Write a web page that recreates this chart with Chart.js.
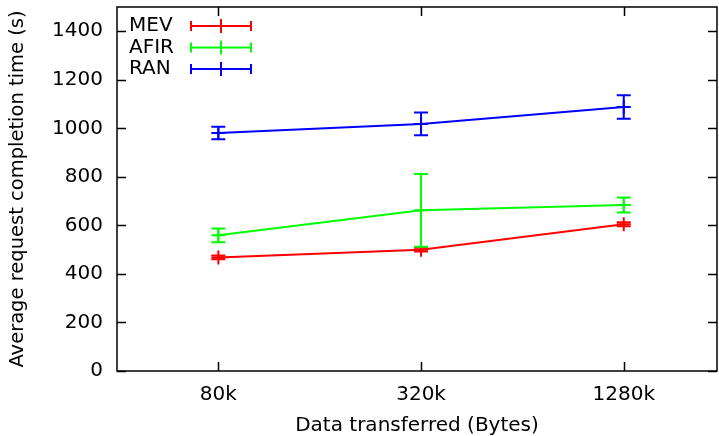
<!DOCTYPE html>
<html>
<head>
<meta charset="utf-8">
<script src="https://cdn.jsdelivr.net/npm/chart.js@4/dist/chart.umd.min.js"></script>
<style>
  html,body{margin:0;padding:0;background:#fff}
  #wrap{width:719px;height:436px;position:relative}
</style>
</head>
<body>
<div id="wrap"><canvas id="c"></canvas></div>
<script>
// request completion time vs transfer size, with error bars
const sizes = ['80k', '320k', '1280k'];
const seriesNames = ['MEV', 'AFIR', 'RAN'];
const seriesColors = ['#ff0000', '#00ff00', '#0000ff'];
const mevTime = [468, 500, 605];
const mevErr = [8, 8, 8];
const afirTime = [559, 662, 684];
const afirErr = [28, 150, 31];
const ranTime = [981, 1018, 1088];
const ranErr = [26, 47, 48];
const yTicks = [0, 200, 400, 600, 800, 1000, 1200, 1400];

const FONT = '"DejaVu Sans", sans-serif';
const errs = [mevErr, afirErr, ranErr];

function mkSet(i, vals){
  return {
    label: seriesNames[i],
    data: vals.map((v, k) => ({ x: k, y: v })),
    borderColor: seriesColors[i], backgroundColor: seriesColors[i],
    borderWidth: 2, pointStyle: 'cross', pointRadius: 7, pointBorderWidth: 2,
    tension: 0
  };
}

// vertical error bars with caps
const errorBars = {
  id: 'errorBars',
  afterDatasetsDraw(chart){
    const ctx = chart.ctx, y = chart.scales.y;
    chart.data.datasets.forEach((ds, di) => {
      const meta = chart.getDatasetMeta(di);
      ctx.save();
      ctx.strokeStyle = ds.borderColor; ctx.lineWidth = 2;
      meta.data.forEach((pt, i) => {
        const v = ds.data[i].y, e = errs[di][i];
        const t = y.getPixelForValue(v + e), b = y.getPixelForValue(v - e);
        ctx.beginPath();
        ctx.moveTo(pt.x, t); ctx.lineTo(pt.x, b);
        ctx.moveTo(pt.x - 7, t); ctx.lineTo(pt.x + 7, t);
        ctx.moveTo(pt.x - 7, b); ctx.lineTo(pt.x + 7, b);
        ctx.stroke();
      });
      ctx.restore();
    });
  }
};

// box border with inward ticks on all four sides
const frame = {
  id: 'frame',
  afterDraw(chart){
    const ctx = chart.ctx, a = chart.chartArea, x = chart.scales.x, y = chart.scales.y;
    ctx.save();
    ctx.strokeStyle = '#000'; ctx.lineWidth = 1.5;
    ctx.strokeRect(a.left, a.top, a.right - a.left, a.bottom - a.top);
    ctx.beginPath();
    yTicks.forEach(v => {
      const p = Math.round(y.getPixelForValue(v)) + 0.5;
      ctx.moveTo(a.left, p); ctx.lineTo(a.left + 9, p);
      ctx.moveTo(a.right, p); ctx.lineTo(a.right - 9, p);
    });
    sizes.forEach((s, i) => {
      const p = Math.round(x.getPixelForValue(i)) + 0.5;
      ctx.moveTo(p, a.bottom); ctx.lineTo(p, a.bottom - 9);
      ctx.moveTo(p, a.top); ctx.lineTo(p, a.top + 9);
    });
    ctx.stroke();
    ctx.restore();
  }
};

// key in the upper-left corner
const key = {
  id: 'key',
  afterDraw(chart){
    const ctx = chart.ctx, a = chart.chartArea;
    ctx.save();
    ctx.font = '20px ' + FONT; ctx.textBaseline = 'middle'; ctx.textAlign = 'left';
    seriesNames.forEach((n, i) => {
      const cy = a.top + 19 + i * 21.5;
      ctx.fillStyle = '#000';
      ctx.fillText(n, a.left + 12, cy);
      const x0 = a.left + 74, x1 = a.left + 134, xm = (x0 + x1) / 2;
      ctx.strokeStyle = seriesColors[i]; ctx.lineWidth = 2;
      ctx.beginPath();
      ctx.moveTo(x0, cy); ctx.lineTo(x1, cy);
      ctx.moveTo(x0, cy - 5); ctx.lineTo(x0, cy + 5);
      ctx.moveTo(x1, cy - 5); ctx.lineTo(x1, cy + 5);
      ctx.moveTo(xm, cy - 7); ctx.lineTo(xm, cy + 7);
      ctx.stroke();
    });
    ctx.restore();
  }
};

new Chart(document.getElementById('c'), {
  type: 'line',
  data: {
    datasets: [mkSet(0, mevTime), mkSet(1, afirTime), mkSet(2, ranTime)]
  },
  options: {
    responsive: true, maintainAspectRatio: false, animation: false,
    layout: { autoPadding: false, padding: { top: 7, right: 2, left: 0, bottom: 0 } },
    plugins: { legend: { display: false }, tooltip: { enabled: false } },
    scales: {
      x: {
        type: 'linear', min: -0.5, max: 2.46,
        afterBuildTicks(s){ s.ticks = sizes.map((t, i) => ({ value: i })); },
        grid: { display: false, drawTicks: false }, border: { display: false },
        ticks: { color: '#000', font: { family: FONT, size: 20 }, padding: 12, maxRotation: 0, callback: v => sizes[v] },
        title: { display: true, text: 'Data transferred (Bytes)', color: '#000', font: { family: FONT, size: 20, lineHeight: 1.0 }, padding: { top: 0, bottom: 0 } },
        afterFit(s){ s.height = 65; s.paddingLeft = 0; s.paddingRight = 0; }
      },
      y: {
        min: 0, max: 1500,
        afterBuildTicks(s){ s.ticks = yTicks.map(v => ({ value: v })); },
        grid: { display: false, drawTicks: false }, border: { display: false },
        ticks: { color: '#000', font: { family: FONT, size: 20 }, padding: 14, callback: v => String(v) },
        title: { display: true, text: 'Average request completion time (s)', color: '#000', font: { family: FONT, size: 19.5 }, padding: { top: 6, bottom: 0 } },
        afterFit(s){ s.width = 117; s.paddingTop = 0; s.paddingBottom = 0; }
      }
    }
  },
  plugins: [errorBars, frame, key]
});
</script>
</body>
</html>
